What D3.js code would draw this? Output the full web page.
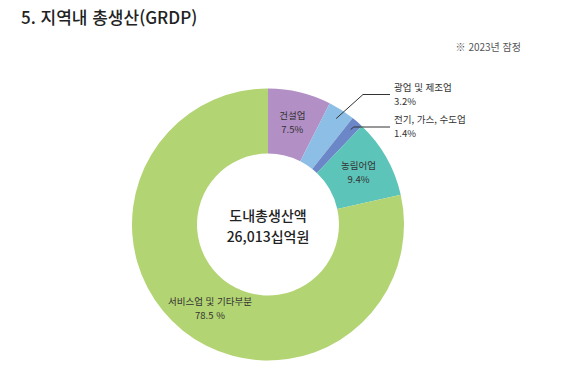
<!DOCTYPE html>
<html lang="ko">
<head>
<meta charset="utf-8">
<script src="https://cdn.jsdelivr.net/npm/d3@7"></script>
<style>
  html, body { margin: 0; padding: 0; background: #fff; }
  svg { display: block; font-family: "Noto Sans CJK KR", "Noto Sans", sans-serif; }
</style>
</head>
<body>
<svg id="chart" width="561" height="387"></svg>
<script>
// ---- data ----
const categories = ["건설업", "광업 및 제조업", "전기, 가스, 수도업", "농림어업", "서비스업 및 기타부분"];
const values     = [7.5, 3.2, 1.4, 9.4, 78.5];
const valueLabels = ["7.5%", "3.2%", "1.4%", "9.4%", "78.5 %"];
const colors     = ["#b28fc5", "#8dbfe6", "#6b87c8", "#5dc4b9", "#b2d472"];
const outside    = [false, true, true, false, false]; // labels drawn with leader lines
const centerTitle = "도내총생산액";
const centerValue = "26,013십억원";

const svg = d3.select("#chart");

// title + note
svg.append("text").attr("x", 21).attr("y", 24)
  .attr("font-size", 17).attr("font-weight", 500).attr("fill", "#222")
  .text("5. 지역내 총생산(GRDP)");
svg.append("text").attr("x", 521).attr("y", 51).attr("text-anchor", "end")
  .attr("font-size", 10).attr("fill", "#555")
  .text("※ 2023년 잠정");

// ---- donut ----
const cx = 268, cy = 224.5, rOut = 136, rIn = 71;
const rows = categories.map((c, i) => ({ name: c, value: values[i], label: valueLabels[i], color: colors[i], out: outside[i] }));

const pie = d3.pie().value(d => d.value).sort(null);
const arc = d3.arc().innerRadius(rIn).outerRadius(rOut);
const arcs = pie(rows);

const g = svg.append("g").attr("transform", `translate(${cx},${cy})`);

g.selectAll("path.slice").data(arcs).enter().append("path")
  .attr("class", "slice")
  .attr("d", arc)
  .attr("fill", d => d.data.color);

// inside labels (two separate lines)
const fs = 9.5, gap = 14;
const labelArc = d3.arc().innerRadius(104).outerRadius(104);
arcs.filter(d => !d.data.out).forEach(d => {
  let [x, y] = labelArc.centroid(d);
  if (d.index === 4) { x += 7; y += 3; } // nudge the big slice label like the original
  g.append("text").attr("x", x).attr("y", y - 4).attr("text-anchor", "middle")
    .attr("font-size", fs).attr("fill", "#333").text(d.data.name);
  g.append("text").attr("x", x).attr("y", y - 4 + gap).attr("text-anchor", "middle")
    .attr("font-size", fs).attr("fill", "#333").text(d.data.label);
});

// outside labels with leader lines
const leadArc = d3.arc().innerRadius(126).outerRadius(126);
const elbowY = [-130, -97.5];  // y of horizontal leader (relative to centre)
const lineEndX = 122;
arcs.filter(d => d.data.out).forEach((d, i) => {
  const [sx, sy] = leadArc.centroid(d);
  const ey = elbowY[i];
  const pts = i === 0 ? [[sx, sy], [95, ey], [lineEndX, ey]] : [[sx, sy], [sx + 3, ey], [lineEndX, ey]];
  g.append("path")
    .attr("d", d3.line()(pts))
    .attr("fill", "none").attr("stroke", "#333").attr("stroke-width", 1);
  g.append("text").attr("x", lineEndX + 4).attr("y", ey - 4)
    .attr("font-size", fs).attr("fill", "#333").text(d.data.name);
  g.append("text").attr("x", lineEndX + 4).attr("y", ey - 4 + gap)
    .attr("font-size", fs).attr("fill", "#333").text(d.data.label);
});

// centre text
g.append("text").attr("text-anchor", "middle").attr("y", -4)
  .attr("font-size", 14).attr("font-weight", 500).attr("fill", "#222")
  .text(centerTitle);
g.append("text").attr("text-anchor", "middle").attr("y", 17)
  .attr("font-size", 14).attr("font-weight", 500).attr("fill", "#222")
  .text(centerValue);
</script>
</body>
</html>
